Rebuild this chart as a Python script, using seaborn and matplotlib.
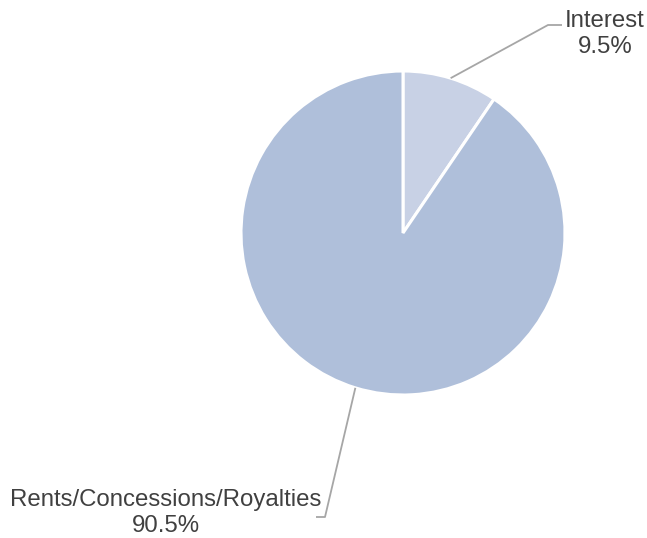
import numpy as np
import matplotlib
matplotlib.use("Agg")
import matplotlib.pyplot as plt
import seaborn as sns

# Revenue share by source
categories = ["Interest", "Rents/Concessions/Royalties"]
shares = [9.5, 90.5]
pct_labels = ["9.5%", "90.5%"]

sns.set_theme(style="white")
plt.rcParams["font.family"] = ["Liberation Sans", "DejaVu Sans"]

W, H = 647, 538
fig = plt.figure(figsize=(W / 100, H / 100), dpi=100)
ax = fig.add_axes([0, 0, 1, 1])

colors = ["#c8d1e5", "#afbfda"]
cx, cy, r = 403, H - 233, 162

wedges, _ = ax.pie(
    shares,
    colors=colors,
    startangle=90,
    counterclock=False,
    center=(cx, cy),
    radius=r,
    wedgeprops=dict(edgecolor="white", linewidth=2.2),
    frame=True,
)
ax.set_xlim(0, W)
ax.set_ylim(0, H)
ax.set_aspect("equal")
ax.axis("off")

# leader line elbows and label anchors (x, y from the top edge)
elbows = [((548, 25), (562, 25)), ((325, 517), (316, 517))]
label_pos = [(605, 34), (166, 513)]

line_color = "#a6a6a6"
text_color = "#404040"
for w, (e1, e2), (lx, ly), cat, pct in zip(wedges, elbows, label_pos, categories, pct_labels):
    mid = np.deg2rad((w.theta1 + w.theta2) / 2)
    sx, sy = cx + r * np.cos(mid), cy + r * np.sin(mid)
    ax.plot([sx, e1[0], e2[0]], [sy, H - e1[1], H - e2[1]],
            color=line_color, lw=1.3, solid_capstyle="butt")
    ax.text(lx, H - ly, f"{cat}\n{pct}", ha="center", va="center",
            multialignment="center", fontsize=17.3, color=text_color,
            linespacing=1.25)

fig.savefig("out.png", dpi=100)
